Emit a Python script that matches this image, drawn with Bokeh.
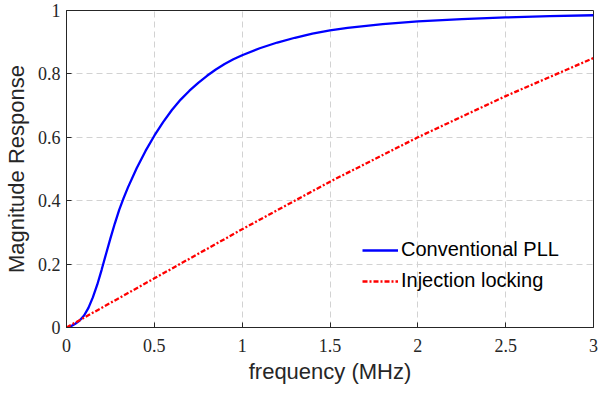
from bokeh.plotting import figure
from bokeh.models import Range1d, FixedTicker, Legend, LegendItem
from bokeh.embed import file_html
from bokeh.resources import INLINE

# Frequency sample points (MHz)
freq = [0, 0.025, 0.05, 0.075, 0.1, 0.125, 0.15, 0.175, 0.2, 0.225, 0.25, 0.275, 0.3, 0.325,
        0.35, 0.4, 0.45, 0.5, 0.55, 0.6, 0.65, 0.7, 0.75, 0.8, 0.85, 0.9, 0.95, 1.0,
        1.1, 1.2, 1.3, 1.4, 1.5, 1.6, 1.8, 2.0, 2.25, 2.5, 2.75, 3.0]
# Conventional PLL magnitude response
pll = [0, 0.004, 0.012, 0.022, 0.038, 0.062, 0.095, 0.135, 0.182, 0.232, 0.281, 0.328, 0.371,
       0.408, 0.442, 0.503, 0.557, 0.605, 0.648, 0.686, 0.719, 0.747, 0.772, 0.794, 0.814,
       0.831, 0.846, 0.859, 0.881, 0.899, 0.914, 0.927, 0.937, 0.945, 0.957, 0.966, 0.973,
       0.978, 0.982, 0.985]
# Injection locking magnitude response
inj_freq = [0, 0.5, 1.0, 1.5, 2.0, 2.5, 3.0]
inj = [0, 0.155, 0.31, 0.46, 0.6, 0.73, 0.85]

x_ticks = [0, 0.5, 1, 1.5, 2, 2.5, 3]
y_ticks = [0, 0.2, 0.4, 0.6, 0.8, 1]
x_label = "frequency (MHz)"
y_label = "Magnitude Response"

TICK_FONT = "Liberation Sans Narrow"
FONT = "Liberation Sans"
DARK = "#262626"

p = figure(width=598, height=386, output_backend="svg", toolbar_location=None,
           x_range=Range1d(0, 3), y_range=Range1d(0, 1),
           min_border_left=56, min_border_right=5, min_border_top=10, min_border_bottom=57)

r1 = p.line(freq, pll, line_color="#0000ff", line_width=2.3)
r2 = p.line(inj_freq, inj, line_color="#ff0000", line_width=2.3, line_dash="5 2 2 2")

for ax in (p.xaxis[0], p.yaxis[0]):
    ax.major_tick_in = 5
    ax.major_tick_out = 0
    ax.minor_tick_in = 0
    ax.minor_tick_out = 0
    ax.axis_line_color = DARK
    ax.major_tick_line_color = DARK
    ax.major_label_text_color = DARK
    ax.major_label_text_font = TICK_FONT
    ax.major_label_text_font_size = "18px"
    ax.axis_label_text_font = FONT
    ax.axis_label_text_font_size = "22px"
    ax.axis_label_text_font_style = "normal"
    ax.axis_label_text_color = DARK

p.xaxis[0].ticker = FixedTicker(ticks=x_ticks)
p.yaxis[0].ticker = FixedTicker(ticks=y_ticks)
p.xaxis[0].axis_label = x_label
p.yaxis[0].axis_label = y_label
p.xaxis[0].major_label_standoff = 11
p.xaxis[0].axis_label_standoff = 4
p.yaxis[0].major_label_standoff = 6
p.yaxis[0].axis_label_standoff = 6

p.grid.grid_line_color = "#d2d2d2"
p.grid.grid_line_dash = "6 4"
p.grid.grid_line_width = 1
p.outline_line_color = DARK
p.outline_line_width = 1
p.background_fill_color = "white"
p.border_fill_color = "white"

legend = Legend(items=[LegendItem(label="Conventional PLL", renderers=[r1]),
                       LegendItem(label="Injection locking", renderers=[r2])],
                location=(296, 35))
legend.border_line_color = None
legend.background_fill_alpha = 0
legend.padding = 0
legend.margin = 0
legend.spacing = 8
legend.glyph_width = 36
legend.glyph_height = 22
legend.label_standoff = 3
legend.label_text_font = FONT
legend.label_text_font_size = "20px"
legend.label_text_color = "black"
p.add_layout(legend, "center")

open("out.html", "w").write(file_html(p, INLINE))
